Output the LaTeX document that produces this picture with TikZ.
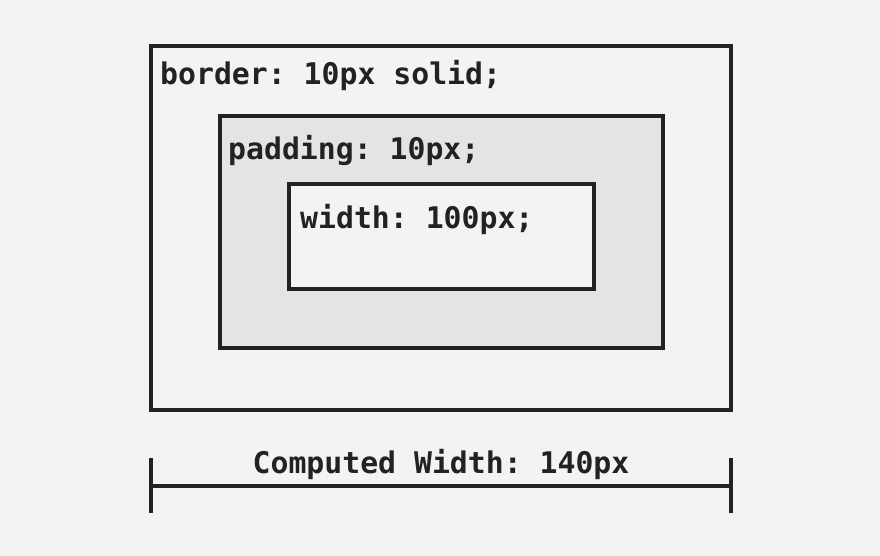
\documentclass[tikz,border=0pt]{standalone}
\usepackage{fontspec}
\setmonofont{DejaVu Sans Mono}
\definecolor{bg}{HTML}{F3F3F3}
\definecolor{pad}{HTML}{E4E4E4}
\definecolor{ink}{HTML}{222222}
\begin{document}
\begin{tikzpicture}[x=1pt,y=-1pt,
  box/.style={draw=ink,line width=3.2pt},
  lbl/.style={anchor=base west,inner sep=0pt,text=ink,font=\ttfamily\bfseries\fontsize{29.8}{33}\selectfont},
  dim/.style={draw=ink,line width=3.2pt}]
\fill[bg] (0,0) rectangle (880,556);
\useasboundingbox (0,0) rectangle (880,556);
\draw[box,fill=bg] (151,46) rectangle (731,410);
\draw[box,fill=pad] (220,116) rectangle (663,348);
\draw[box,fill=bg] (289,184) rectangle (594,289);
\node[lbl] (b) at (160,85) {border: 10px solid;};
\node[lbl] (p) at (228,160) {padding: 10px;};
\node[lbl] (w) at (300,228) {width: 100px;};
\coordinate (l) at (151,486);
\coordinate (r) at (731,486);
\coordinate (lt) at (151,458);
\coordinate (lb) at (151,513);
\coordinate (rt) at (731,458);
\coordinate (rb) at (731,513);
\draw[dim] (l) -- (r);
\draw[dim] (lt) -- (lb);
\draw[dim] (rt) -- (rb);
\node[lbl,anchor=base] (c) at (441,473) {Computed Width: 140px};
\end{tikzpicture}
\end{document}
